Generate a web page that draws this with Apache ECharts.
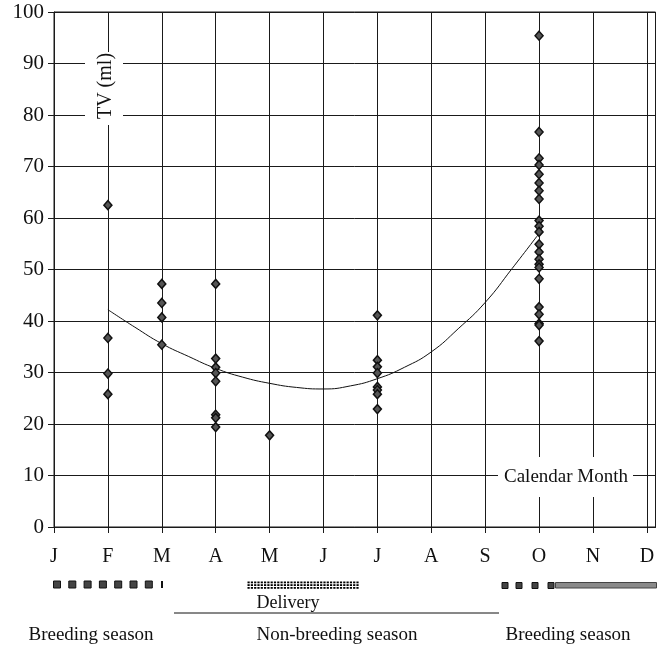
<!DOCTYPE html>
<html>
<head>
<meta charset="utf-8">
<script src="https://cdn.jsdelivr.net/npm/echarts@6/dist/echarts.min.js"></script>
<style>
html,body{margin:0;padding:0;background:#fff;}
#c{width:658px;height:647px;}
</style>
</head>
<body>
<div id="c"></div>
<script>
// ---- data ----
const monthLabels = ['J','F','M','A','M','J','J','A','S','O','N','D'];
const yTicks = [0,10,20,30,40,50,60,70,80,90,100];

const tvFeb = [62.5, 36.7, 29.8, 25.8];
const tvMar = [47.2, 43.5, 40.7, 35.4];
const tvApr = [47.2, 32.7, 31.0, 29.9, 28.3, 21.8, 21.2, 19.4];
const tvMay = [17.8];
const tvJul = [41.1, 32.4, 31.1, 29.9, 27.2, 26.6, 25.8, 22.9];
const tvOct = [95.4, 76.7, 71.6, 70.3, 68.5, 66.8, 65.3, 63.7, 59.5, 58.4, 57.3,
               54.9, 53.4, 52.0, 51.0, 50.4, 48.2, 42.7, 41.3, 39.5, 39.2, 36.1];

const trendMonth = [2, 2.5, 3, 3.5, 4, 4.5, 5, 5.5, 6, 6.5, 7, 7.5, 8, 8.5, 9, 9.5, 10];
const trendTV    = [42.2, 38.8, 35.6, 33.1, 30.8, 29.1, 27.9, 27.1, 26.8, 27.4, 28.8, 31.0, 34.0, 38.5, 43.6, 50.2, 57.0];

const groups = [[2, tvFeb], [3, tvMar], [4, tvApr], [5, tvMay], [7, tvJul], [10, tvOct]];
const scatterData = [];
groups.forEach(([m, vals]) => vals.forEach(v => scatterData.push([m, v])));
const trendData = trendMonth.map((m, i) => [m, trendTV[i]]);

const SERIF = '"Liberation Serif", "Times New Roman", serif';
const LINE = '#1a1a1a';

// ---- decorations (season bars / labels) ----
const deco = [];
// TV (ml) label box
deco.push({type:'rect', shape:{x:85, y:52, width:38, height:73}, style:{fill:'#fff'}, z:1, silent:true});
deco.push({type:'text', x:106, y:86, rotation:Math.PI/2, z:2,
  style:{text:'TV (ml)', font:'20px ' + SERIF, fill:'#111', align:'center', verticalAlign:'middle'}});
// Calendar Month label box
deco.push({type:'rect', shape:{x:498, y:457, width:135, height:40}, style:{fill:'#fff'}, z:1, silent:true});
deco.push({type:'text', x:566, y:477, z:2,
  style:{text:'Calendar Month', font:'19px ' + SERIF, fill:'#111', align:'center', verticalAlign:'middle'}});
// left breeding squares
for (let i = 0; i < 7; i++) {
  deco.push({type:'rect', shape:{x:53.5 + i*15.3, y:581, width:7, height:7},
    style:{fill:'#444', stroke:'#111', lineWidth:1}, z:2});
}
deco.push({type:'rect', shape:{x:161, y:581, width:2, height:7}, style:{fill:'#111'}, z:2});
// delivery dotted bar
for (let x = 247.5; x < 359; x += 3.3) {
  [581.5, 584.2, 587].forEach(y => {
    deco.push({type:'rect', shape:{x:x, y:y, width:2.2, height:1.8}, style:{fill:'#000'}, z:2});
  });
}
deco.push({type:'text', x:288, y:603, z:2,
  style:{text:'Delivery', font:'18px ' + SERIF, fill:'#111', align:'center', verticalAlign:'middle'}});
deco.push({type:'line', shape:{x1:174, y1:613, x2:499, y2:613}, style:{stroke:'#111', lineWidth:1}, z:2});
// right breeding squares + hatched bar
[502, 516, 532, 548].forEach(x => {
  deco.push({type:'rect', shape:{x:x, y:582.5, width:6, height:6},
    style:{fill:'#444', stroke:'#111', lineWidth:1}, z:2});
});
deco.push({type:'rect', shape:{x:555.5, y:582.5, width:101, height:5.5},
  style:{fill:'#8a8a8a', stroke:'#444', lineWidth:1}, z:2});
// season texts
[['Breeding season', 91], ['Non-breeding season', 337], ['Breeding season', 568]].forEach(([t, x]) => {
  deco.push({type:'text', x:x, y:635, z:2,
    style:{text:t, font:'19px ' + SERIF, fill:'#111', align:'center', verticalAlign:'middle'}});
});

const chart = echarts.init(document.getElementById('c'), null, {renderer:'canvas'});
chart.setOption({
  animation: false,
  backgroundColor: '#fff',
  grid: {left:54, right:2.5, top:12, bottom:120, show:true, borderColor:LINE, borderWidth:1, backgroundColor:'transparent'},
  xAxis: {
    type:'value', min:1, max:12.16, interval:1,
    axisLine:{show:true, lineStyle:{color:LINE, width:1}},
    axisTick:{show:true, inside:false, length:6, lineStyle:{color:LINE}, customValues:[1,2,3,4,5,6,7,8,9,10,11,12]},
    axisLabel:{show:true, margin:20, color:'#111', fontFamily:SERIF, fontSize:20,
      customValues:[1,2,3,4,5,6,7,8,9,10,11,12],
      formatter: v => monthLabels[Math.round(v) - 1] || ''},
    splitLine:{show:true, lineStyle:{color:LINE, width:1}}
  },
  yAxis: {
    type:'value', min:0, max:100, interval:10,
    axisLine:{show:true, lineStyle:{color:LINE, width:1}},
    axisTick:{show:true, inside:false, length:6, lineStyle:{color:LINE}},
    axisLabel:{show:true, margin:10, color:'#111', fontFamily:SERIF, fontSize:21,
      formatter: v => yTicks.includes(v) ? String(v) : ''},
    splitLine:{show:true, lineStyle:{color:LINE, width:1}}
  },
  graphic: deco,
  series: [
    {type:'line', data:trendData, smooth:0.5, showSymbol:false, symbol:'none',
     lineStyle:{color:'#111', width:1}, z:3},
    {type:'scatter', data:scatterData, symbol:'diamond', symbolSize:[8,9],
     itemStyle:{color:'#555', borderColor:'#111', borderWidth:1.5, opacity:1}, z:4}
  ]
});
</script>
</body>
</html>
